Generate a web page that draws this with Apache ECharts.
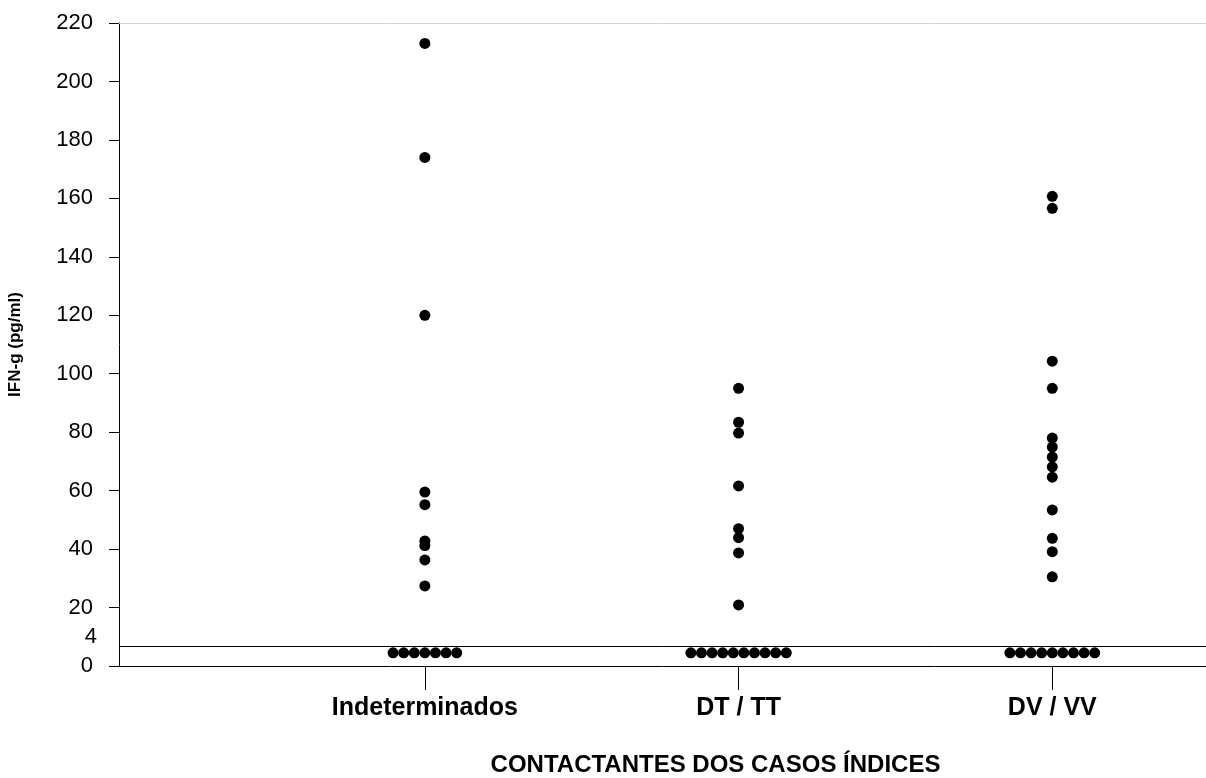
<!DOCTYPE html>
<html>
<head>
<meta charset="utf-8">
<script src="https://cdn.jsdelivr.net/npm/echarts@6/dist/echarts.min.js"></script>
<style>
  html, body { margin: 0; padding: 0; background: #fff; }
  #chart { width: 1206px; height: 778px; }
</style>
</head>
<body>
<div id="chart"></div>
<script>
// categorias (grupos de contactantes)
const groups = ["Indeterminados", "DT / TT", "DV / VV"];

// valores de IFN-g acima do ponto de corte, por grupo
const indeterminados = [213, 174, 120, 59.5, 55.2, 42.8, 41.2, 36.3, 27.4];
const dtTt = [95, 83.4, 79.7, 61.6, 47, 43.9, 38.7, 20.9];
const dvVv = [160.7, 156.6, 104.3, 95, 78, 74.9, 71.5, 68.1, 64.6, 53.4, 43.7, 39.1, 30.5];

// amostras abaixo do corte (desenhadas lado a lado)
const belowCutoffCounts = [7, 10, 9];
const belowCutoffValue = 4.5;

// linha de corte
const cutoffValue = 6.8;
const cutoffLabel = "4";

// eixo y
const yMin = 0;
const yMax = 220;
const yStep = 20;

const font = "Liberation Sans, Arial, sans-serif";
const dotSize = 11;
const dotGap = 10.6;

const aboveData = [];
[indeterminados, dtTt, dvVv].forEach((vals, g) => {
  vals.forEach((v) => aboveData.push([g + 1, v]));
});

const belowData = [];
belowCutoffCounts.forEach((n, g) => {
  for (let i = 0; i < n; i++) {
    belowData.push({
      value: [g + 1, belowCutoffValue],
      symbolOffset: [(i - (n - 1) / 2) * dotGap, 0],
    });
  }
});

const chart = echarts.init(document.getElementById("chart"), null, { renderer: "canvas" });

chart.setOption({
  animation: false,
  backgroundColor: "#fff",
  grid: { left: 119, right: 0, top: 23, bottom: 112, outerBoundsMode: "none" },
  xAxis: [
    {
      type: "value",
      min: 0.025,
      max: 3.49,
      splitLine: { show: false },
      axisLine: { lineStyle: { color: "#000", width: 1 } },
      axisTick: {
        customValues: [1, 2, 3],
        length: 24,
        lineStyle: { color: "#000", width: 1 },
      },
      axisLabel: {
        customValues: [1, 2, 3],
        formatter: (v) => groups[Math.round(v) - 1] || "",
        fontFamily: font,
        fontSize: 25,
        fontWeight: "bold",
        color: "#000",
        margin: 30,
      },
      name: "CONTACTANTES DOS CASOS ÍNDICES",
      nameLocation: "middle",
      nameGap: 87,
      nameTextStyle: {
        fontFamily: font,
        fontSize: 24,
        fontWeight: "bold",
        color: "#000",
        padding: [0, 0, 0, 106],
      },
    },
    {
      type: "value",
      position: "top",
      min: 0.025,
      max: 3.49,
      splitLine: { show: false },
      axisLine: { lineStyle: { color: "#d4d4d4", width: 1 } },
      axisTick: { show: false },
      axisLabel: { show: false },
    },
  ],
  yAxis: {
    type: "value",
    min: yMin,
    max: yMax,
    interval: yStep,
    splitLine: { show: false },
    axisLine: { show: true, lineStyle: { color: "#000", width: 1 } },
    axisTick: { show: true, length: 10, lineStyle: { color: "#000", width: 1 } },
    axisLabel: { fontFamily: font, fontSize: 22, color: "#000", margin: 26 },
    name: "IFN-g (pg/ml)",
    nameLocation: "middle",
    nameGap: 95,
    nameTextStyle: { fontFamily: font, fontSize: 17, fontWeight: "bold", color: "#000" },
  },
  series: [
    {
      type: "scatter",
      data: aboveData,
      symbol: "circle",
      symbolSize: dotSize,
      itemStyle: { color: "#000", opacity: 1 },
      markLine: {
        silent: true,
        symbol: "none",
        lineStyle: { color: "#000", width: 1, type: "solid", opacity: 1 },
        label: {
          show: true,
          position: "start",
          // segunda linha vazia empurra o "4" para cima da linha de corte
          formatter: cutoffLabel + "\n ",
          lineHeight: 18,
          distance: 22,
          fontFamily: font,
          fontSize: 22,
          color: "#000",
        },
        data: [{ yAxis: cutoffValue }],
      },
    },
    {
      type: "scatter",
      data: belowData,
      symbol: "circle",
      symbolSize: dotSize,
      itemStyle: { color: "#000", opacity: 1 },
    },
  ],
});
</script>
</body>
</html>
